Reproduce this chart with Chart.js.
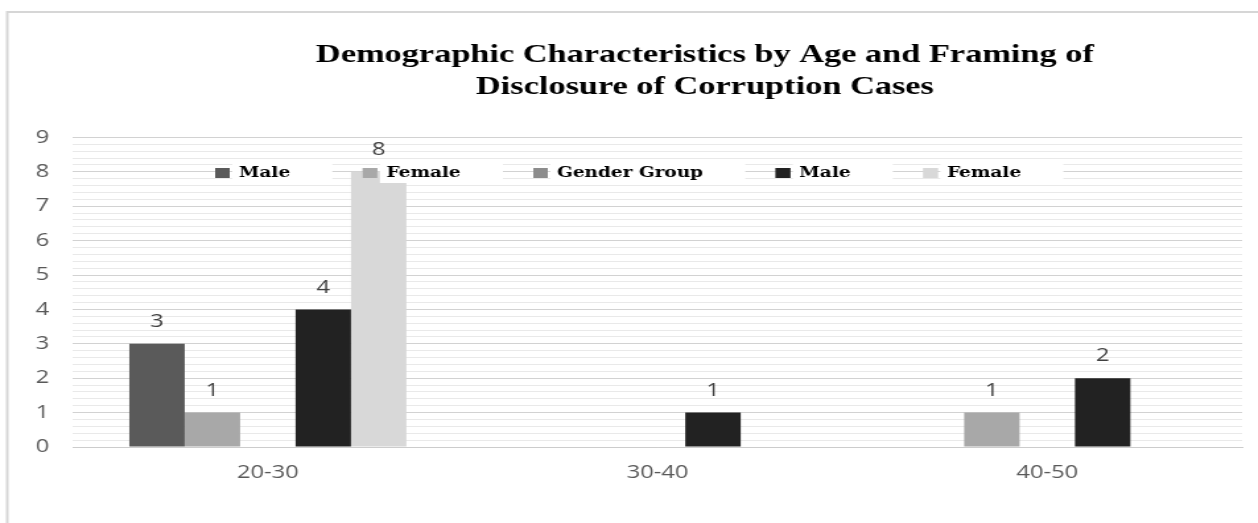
<!DOCTYPE html>
<html>
<head>
<meta charset="utf-8">
<script src="https://cdn.jsdelivr.net/npm/chart.js@4"></script>
<style>
  html, body { margin: 0; padding: 0; background: #fff; overflow: hidden; }
  /* the original picture is stretched sideways, so the chart is drawn narrow and widened */
  #wrap { width: 953px; height: 523px; transform: scaleX(1.32); transform-origin: 0 0; }
</style>
</head>
<body>
<div id="wrap"><canvas id="chart" width="953" height="523"></canvas></div>
<script>
//data
const ageGroups = ['20-30', '30-40', '40-50'];
const seriesNames = ['Male', 'Female', 'Gender Group', 'Male', 'Female'];
const maleFirst = [3, null, null];
const femaleFirst = [1, null, 1];
const genderGroup = [null, null, null];
const maleSecond = [4, 1, 2];
const femaleSecond = [8, null, null];
const yMax = 9;

const seriesColors = ['#5a5a5a', '#a8a8a8', '#8c8c8c', '#222222', '#d8d8d8'];
const seriesValues = [maleFirst, femaleFirst, genderGroup, maleSecond, femaleSecond];

const tickFont = { family: 'Open Sans', size: 18 };

function isWhole(v) {
    return Math.abs(v - Math.round(v)) < 1e-6;
}

/*
 * frame line round the chart
 */
const framePlugin = {
    id: 'frame',
    beforeDraw(chart) {
        const ctx = chart.ctx;
        ctx.save();
        ctx.strokeStyle = '#d6d6d6';
        ctx.lineWidth = 2;
        ctx.strokeRect(5.5, 12, chart.width + 20, chart.height + 20);
        ctx.restore();
    }
}

/*
 * legend sits inside the plot, title sits right of centre
 */
const placePlugin = {
    id: 'place',
    afterLayout(chart) {
        const lg = chart.legend;
        const pad = lg.options.labels.padding;
        const fontSize = lg.options.labels.font.size;
        lg.left = 163 - pad;
        lg.top = 173 - fontSize / 2 - pad;
        lg.bottom = lg.top + 2 * pad + fontSize;
        const t = chart.titleBlock;
        if (t) t.left = 127;
    },
    afterDatasetsDraw(chart) {
        const ctx = chart.ctx;
        const lg = chart.legend;
        const bw = lg.options.labels.boxWidth;
        ctx.save();
        ctx.fillStyle = '#ffffff';
        for (let hb of lg.legendHitBoxes) {
            const cy = hb.top + hb.height / 2;
            ctx.fillRect(hb.left + bw + 2, cy - 10, hb.width - bw + 30, 20);
        }
        ctx.restore();
        lg.draw();
    }
}

/*
 * value labels above the bars
 */
const valueLabels = {
    id: 'valueLabels',
    afterDatasetsDraw(chart) {
        const ctx = chart.ctx;
        ctx.save();
        ctx.fillStyle = '#404040';
        ctx.font = tickFont.size + 'px "' + tickFont.family + '"';
        ctx.textAlign = 'center';
        ctx.textBaseline = 'middle';
        chart.data.datasets.forEach((ds, i) => {
            const meta = chart.getDatasetMeta(i);
            meta.data.forEach((bar, j) => {
                const v = ds.data[j];
                if (v === null || v === undefined) return;
                ctx.fillText(String(v), bar.x, bar.y - 22);
            });
        });
        ctx.restore();
    }
}

const datasets = seriesNames.map((name, i) => ({
    label: name,
    data: seriesValues[i],
    backgroundColor: seriesColors[i],
    borderWidth: 0,
    categoryPercentage: 0.711,
    barPercentage: 1,
}));

const ctx = document.getElementById('chart').getContext('2d');
const chart = new Chart(ctx, {
    type: 'bar',
    data: {
        labels: ageGroups,
        datasets: datasets,
    },
    plugins: [framePlugin, placePlugin, valueLabels],
    options: {
        responsive: false,
        animation: false,
        devicePixelRatio: 1,
        layout: {
            padding: { left: 0, right: 12, top: 0, bottom: 0 }
        },
        plugins: {
            title: {
                display: true,
                text: ['Demographic Characteristics by Age and Framing of', 'Disclosure of Corruption Cases'],
                color: '#000000',
                font: { family: 'Liberation Serif', size: 26, weight: 'bold', lineHeight: 1.2 },
                padding: { top: 40, bottom: 34 },
            },
            legend: {
                position: 'top',
                align: 'start',
                maxHeight: 1,
                labels: {
                    color: '#000000',
                    boxWidth: 11,
                    boxHeight: 10,
                    padding: 55,
                    font: { family: 'DejaVu Serif', size: 14, weight: 'bold' },
                }
            },
            tooltip: { enabled: false },
        },
        scales: {
            x: {
                grid: { display: false, drawTicks: false },
                border: { display: true, color: '#cccccc', width: 1 },
                ticks: { color: '#595959', font: tickFont, padding: 15 },
                afterFit(axis) { axis.height = 76; },
            },
            y: {
                min: 0,
                max: yMax,
                border: { display: false },
                grid: {
                    drawTicks: false,
                    color: (c) => isWhole(c.tick.value) ? '#d2d2d2' : '#e9e9e9',
                    lineWidth: 1,
                },
                ticks: {
                    stepSize: 0.2,
                    autoSkip: false,
                    color: '#595959',
                    font: tickFont,
                    padding: 18,
                    callback: (v) => isWhole(v) ? String(Math.round(v)) : '',
                },
                afterFit(axis) { axis.width = 55.3; },
            },
        },
    }
})
</script>
</body>
</html>
